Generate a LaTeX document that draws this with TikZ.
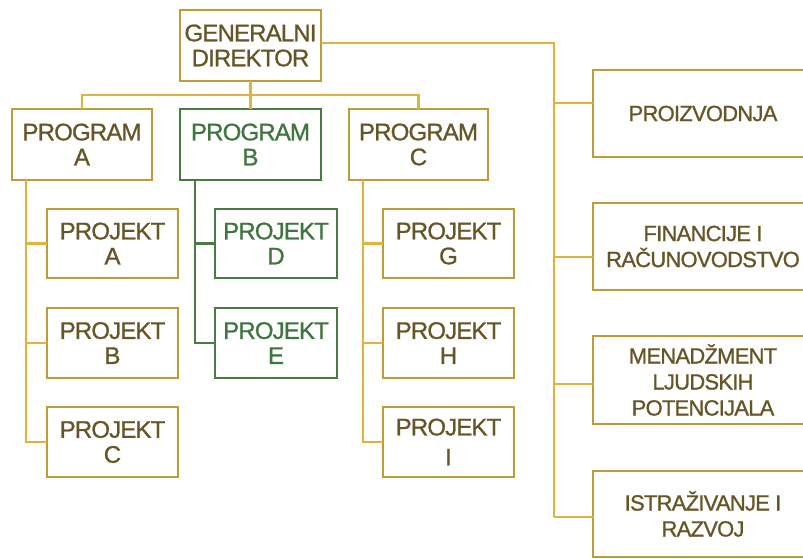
\documentclass[tikz,border=0pt]{standalone}
\usepackage{fontspec}
\setmainfont{Liberation Sans}
\newfontfamily\boxfont{Liberation Sans}[FakeBold=1, LetterSpace=-3.5]
\definecolor{goldbox}{HTML}{BE9C38}
\definecolor{goldline}{HTML}{DDB43E}
\definecolor{goldtext}{HTML}{665525}
\definecolor{greenbox}{HTML}{4B7B45}
\definecolor{greentext}{HTML}{3F7640}
\tikzset{
  box/.style={draw=goldbox, line width=2.8pt, fill=white, inner sep=0pt, outer sep=0pt,
    align=center, text=goldtext, font=\boxfont\fontsize{24}{25}\selectfont},
  gbox/.style={box, draw=greenbox, text=greentext},
  rbox/.style={box, font=\boxfont\fontsize{22}{26}\selectfont},
  conn/.style={draw=goldline, line width=2.2pt},
  gconn/.style={draw=greenbox, line width=2.2pt},
}
\begin{document}
\begin{tikzpicture}[x=1pt,y=-1pt]
\useasboundingbox (0,0) rectangle (803,558);
\clip (0,0) rectangle (803,558);
% coordinates for buses
\coordinate (busy) at (0,95);
\coordinate (rbus) at (554,0);
% nodes
\node[box, minimum width=141pt, minimum height=71pt] (gd) at (250.5,45.5) {GENERALNI\\DIREKTOR};
\node[box, minimum width=140pt, minimum height=71pt] (pa) at (82,144.5) {PROGRAM\\A};
\node[gbox, minimum width=141pt, minimum height=71pt] (pb) at (250.5,144.5) {PROGRAM\\B};
\node[box, minimum width=139pt, minimum height=71pt] (pc) at (418.5,144.5) {PROGRAM\\C};
\node[box, minimum width=131pt, minimum height=69pt] (ja) at (112.5,243.5) {PROJEKT\\A};
\node[box, minimum width=131pt, minimum height=70pt] (jb) at (112.5,343) {PROJEKT\\B};
\node[box, minimum width=131pt, minimum height=70pt] (jc) at (112.5,442) {PROJEKT\\C};
\node[gbox, minimum width=122pt, minimum height=69pt] (jd) at (276,243.5) {PROJEKT\\D};
\node[gbox, minimum width=122pt, minimum height=70pt] (je) at (276,343) {PROJEKT\\E};
\node[box, minimum width=131pt, minimum height=69pt] (jg) at (448.5,243.5) {PROJEKT\\G};
\node[box, minimum width=131pt, minimum height=70pt] (jh) at (448.5,343) {PROJEKT\\H};
\node[box, minimum width=131pt, minimum height=70pt] (ji) at (448.5,442) {PROJEKT\\[5pt]I};
\node[rbox, minimum width=220pt, minimum height=87pt] (r1) at (703,113.5) {PROIZVODNJA};
\node[rbox, minimum width=220pt, minimum height=87pt] (r2) at (703,246.5) {FINANCIJE I\\RAČUNOVODSTVO};
\node[rbox, minimum width=220pt, minimum height=88pt] (r3) at (703,380) {MENADŽMENT\\LJUDSKIH\\POTENCIJALA};
\node[rbox, minimum width=220pt, minimum height=86pt] (r4) at (703,514) {ISTRAŽIVANJE I\\RAZVOJ};
% top connectors
\draw[conn] (gd.south) -- (gd.south |- busy);
\draw[conn] (pa.north) -- (pa.north |- busy) -- (pc.north |- busy) -- (pc.north);
\draw[conn] (pb.north) -- (pb.north |- busy);
% right bus
\coordinate (rtop) at ([yshift=2.5pt]gd.east -| rbus);
\coordinate (rbot) at ([yshift=-3pt]r4.west -| rbus);
\draw[conn] ([yshift=2.5pt]gd.east) -- (rtop) -- (rbot);
\draw[conn] ([yshift=10.5pt]r1.west) -- ([yshift=10.5pt]r1.west -| rbus);
\draw[conn] ([yshift=-10.5pt]r2.west) -- ([yshift=-10.5pt]r2.west -| rbus);
\draw[conn] ([yshift=-4pt]r3.west) -- ([yshift=-4pt]r3.west -| rbus);
\draw[conn] ([yshift=-3pt]r4.west) -- (rbot);
% program A
\coordinate (va) at ([xshift=14pt]pa.south west);
\draw[conn] (va) |- (jc.west);
\draw[conn] (ja.west) -- (ja.west -| va);
\draw[conn] (jb.west) -- (jb.west -| va);
% program B
\coordinate (vb) at ([xshift=15pt]pb.south west);
\draw[gconn] (vb) |- (je.west);
\draw[gconn] (jd.west) -- (jd.west -| vb);
% program C
\coordinate (vc) at ([xshift=14pt]pc.south west);
\draw[conn] (vc) |- (ji.west);
\draw[conn] (jg.west) -- (jg.west -| vc);
\draw[conn] (jh.west) -- (jh.west -| vc);
\end{tikzpicture}
\end{document}
